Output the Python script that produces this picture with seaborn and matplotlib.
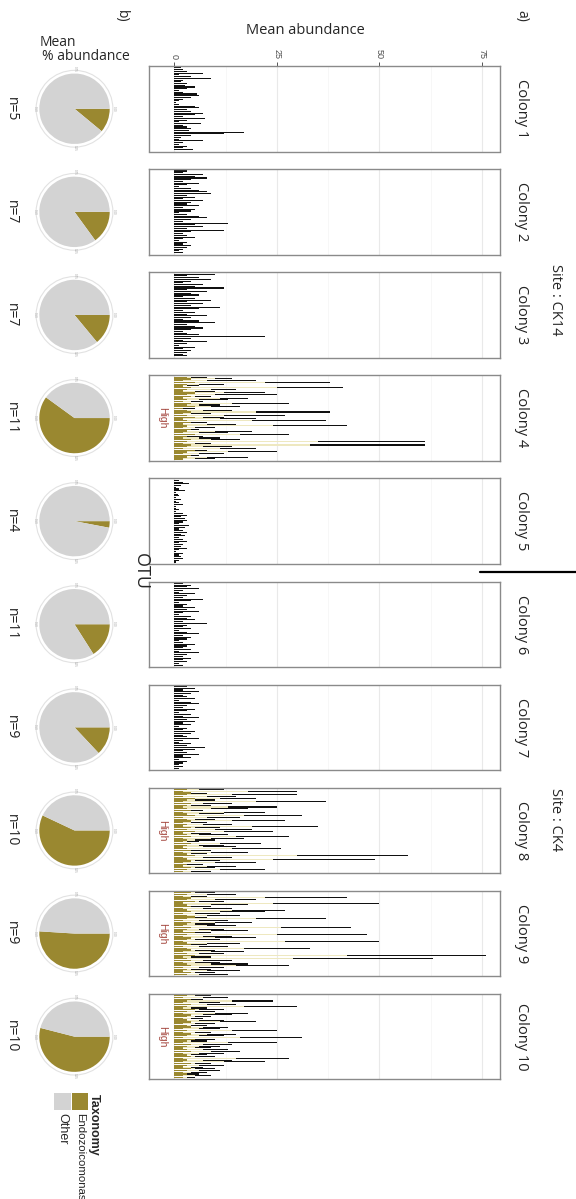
import numpy as np
import pandas as pd
import matplotlib
matplotlib.use("Agg")
import matplotlib.pyplot as plt
from matplotlib.patches import Rectangle, Circle
import seaborn as sns

sns.set_theme(style="white")
plt.rcParams["font.family"] = ["Open Sans", "DejaVu Sans"]

# ---- data -------------------------------------------------------------
colonies = [f"Colony {i}" for i in range(1, 11)]
sample_n = [5, 7, 7, 11, 4, 11, 9, 10, 9, 10]
endo_share = [0.11, 0.15, 0.14, 0.60, 0.03, 0.16, 0.13, 0.57, 0.51, 0.54]
high_colonies = ["Colony 4", "Colony 8", "Colony 9", "Colony 10"]
site_names = ["Site : CK14", "Site : CK4"]
axis_ticks = [0, 25, 50, 75]

# mean abundance per OTU (total bar length)
c1_total = [1.5, 2, 3, 7, 1, 4, 9, 2, 1.5, 3, 2.5, 5, 3, 1, 2, 5.5, 6, 4, 2, 1,
            0.5, 1, 5, 6, 3, 4, 7, 5, 2, 7.5, 3, 1, 6.5, 2, 3, 4, 3.5, 17, 12, 4,
            1.5, 1, 7, 2, 1, 3, 2, 4.5]
c2_total = [3, 2, 7, 5, 8, 4, 2, 6, 3, 1, 4, 6, 8, 9, 3, 5, 2, 7, 4, 3,
            6, 2, 5, 4, 1, 3, 6, 8, 4, 2, 13, 5, 7, 3, 12, 4, 2, 3, 5, 2,
            1, 3, 2, 4, 3, 2, 1, 2]
c3_total = [10, 3, 6, 9, 4, 2, 7, 5, 12, 3, 8, 4, 6, 2, 5, 9, 3, 7, 4, 11,
            6, 2, 5, 3, 8, 4, 2, 6, 10, 3, 5, 7, 4, 2, 3, 6, 22, 4, 2, 8,
            3, 1, 5, 2, 4, 3, 2, 3]
c4_total = [8, 14, 20, 38, 12, 6, 41, 15, 10, 22, 25, 9, 18, 13, 7, 28, 11, 16, 5, 14,
            38, 9, 27, 12, 20, 37, 8, 15, 42, 10, 6, 19, 13, 28, 7, 11, 16, 61, 9, 61,
            14, 20, 8, 25, 12, 6, 18, 10]
c5_total = [1, 2, 3.5, 1.5, 0.5, 1, 2.5, 0.5, 0.8, 1, 0.5, 1.5, 0.5, 1, 2, 0.5, 0.5, 1, 0.5, 2,
            3, 1.5, 2.5, 3, 2, 1, 3.5, 2.5, 1, 2, 3, 1.5, 2.5, 1, 2, 3, 1, 2, 1.5, 3,
            1, 0.5, 2, 1, 1.5, 2, 1, 0.5]
c6_total = [2, 4, 3, 6, 2, 1, 5, 3, 2, 7, 4, 1, 3, 2, 5, 3, 6, 2, 1, 4,
            3, 5, 2, 8, 3, 2, 4, 1, 3, 6, 2, 4, 3, 1, 2, 5, 3, 2, 4, 1,
            6, 3, 2, 4, 2, 3, 1, 2]
c7_total = [3, 5, 2, 6, 4, 2, 3, 5, 1, 4, 6, 3, 2, 5, 3, 1, 4, 2, 6, 3,
            5, 2, 4, 1, 3, 2, 5, 4, 2, 3, 6, 2, 1, 4, 3, 7.5, 5, 2, 3, 6,
            2, 4, 1, 3, 2, 1, 2, 1]
c8_total = [12, 30, 8, 30, 15, 20, 10, 37, 14, 9, 25, 18, 7, 22, 12, 31, 16, 10, 27, 8,
            14, 35, 11, 19, 24, 9, 13, 28, 17, 10, 6, 21, 12, 15, 26, 9, 18, 8, 57, 14,
            49, 11, 20, 7, 15, 10, 22, 9]
c9_total = [10, 15, 8, 42, 20, 12, 50, 18, 9, 14, 27, 22, 11, 16, 8, 37, 13, 19, 10, 15,
            43, 12, 18, 9, 47, 14, 20, 11, 50, 16, 8, 13, 33, 10, 17, 12, 76, 9, 63, 14,
            11, 18, 28, 12, 9, 16, 10, 13]
c10_total = [9, 13, 7, 24, 11, 15, 30, 8, 12, 10, 18, 14, 9, 7, 12, 20, 10, 8, 13, 11,
             25, 9, 15, 12, 31, 10, 8, 25, 14, 11, 9, 13, 16, 12, 8, 10, 28, 14, 22, 9,
             12, 7, 10, 11, 8, 6, 9, 5]

# lighter inner share of the bar (samples other than the dominant one)
c4_pale = [4, 10, 8, 22, 6, 3, 25, 9, 5, 12, 10, 5, 11, 6, 4, 14, 6, 9, 2, 7,
           20, 4, 12, 7, 11, 19, 4, 8, 24, 5, 3, 10, 6, 16, 3, 6, 9, 35, 5, 33,
           7, 11, 4, 13, 6, 3, 8, 5]
c8_pale = [6, 18, 4, 14, 8, 11, 5, 20, 7, 4, 13, 9, 3, 12, 6, 17, 8, 5, 14, 4,
           7, 19, 5, 10, 12, 4, 6, 15, 9, 5, 3, 11, 6, 7, 14, 4, 9, 4, 30, 7,
           24, 5, 10, 3, 8, 5, 11, 4]
c9_pale = [5, 8, 4, 22, 10, 6, 24, 9, 4, 7, 14, 11, 5, 8, 4, 20, 6, 10, 5, 8,
           26, 6, 9, 4, 25, 7, 10, 5, 27, 8, 4, 6, 17, 5, 9, 6, 42, 4, 29, 7,
           5, 9, 15, 6, 4, 8, 5, 6]
c10_pale = [5, 7, 4, 14, 6, 8, 17, 4, 6, 5, 10, 7, 5, 4, 6, 11, 5, 4, 7, 6,
            14, 5, 8, 6, 16, 5, 4, 13, 7, 6, 5, 7, 9, 6, 4, 5, 15, 7, 12, 5,
            6, 4, 5, 6, 4, 3, 5, 3]

# Endozoicomonas part at the base of the bar
c4_olive = [3, 4, 2, 5, 3, 2, 4, 3, 2, 5, 3, 4, 2, 3, 2, 4, 3, 5, 2, 3,
            4, 2, 3, 5, 2, 3, 4, 2, 3, 2, 4, 3, 2, 5, 3, 2, 4, 3, 2, 4,
            3, 2, 5, 3, 2, 4, 3, 2]
c8_olive = [3, 2, 4, 3, 2, 5, 3, 2, 4, 3, 2, 3, 4, 2, 3, 5, 2, 3, 4, 2,
            3, 2, 4, 3, 5, 2, 3, 4, 2, 3, 2, 4, 3, 2, 3, 4, 2, 3, 5, 2,
            3, 4, 2, 3, 2, 4, 3, 2]
c9_olive = [4, 3, 2, 4, 3, 5, 2, 3, 4, 2, 3, 4, 2, 3, 5, 3, 2, 4, 3, 2,
            4, 3, 2, 5, 3, 2, 4, 3, 2, 3, 4, 2, 3, 4, 2, 3, 5, 2, 3, 4,
            2, 3, 4, 2, 3, 2, 4, 3]
c10_olive = [3, 2, 4, 3, 2, 4, 3, 2, 5, 3, 2, 4, 3, 2, 3, 4, 2, 3, 4, 2,
             3, 2, 4, 3, 2, 5, 3, 2, 4, 3, 2, 3, 4, 2, 3, 4, 2, 3, 2, 4,
             3, 2, 4, 3, 2, 3, 2, 2]

totals = [c1_total, c2_total, c3_total, c4_total, c5_total,
          c6_total, c7_total, c8_total, c9_total, c10_total]
pale_parts = {"Colony 4": c4_pale, "Colony 8": c8_pale,
              "Colony 9": c9_pale, "Colony 10": c10_pale}
olive_parts = {"Colony 4": c4_olive, "Colony 8": c8_olive,
               "Colony 9": c9_olive, "Colony 10": c10_olive}

# ---- style ------------------------------------------------------------
OLIVE = "#9A8830"
GREY = "#D3D3D3"
PALE = "#EEE8C0"
DARK = "#111111"
FRAME = "#8A8A8A"
HIGH_RED = "#A4463E"
BAR_W = 0.62

W, H = 576, 1199
fig = plt.figure(figsize=(W / 100, H / 100), dpi=100)
fig.patch.set_facecolor("white")


def fx(x):
    return x / W


def fy(y):
    return 1 - y / H


PANEL_H = 85.5
tops = [66 + 103.1 * i for i in range(10)]
XMIN, XMAX = -6.2, 79.4

for i, (name, vals) in enumerate(zip(colonies, totals)):
    top = tops[i]
    ax = fig.add_axes([fx(149), fy(top + PANEL_H), fx(500) - fx(149), PANEL_H / H])
    n = len(vals)
    otu = [f"{name}-OTU{k + 1:02d}" for k in range(n)]
    df = pd.DataFrame({"otu": otu, "total": vals})
    # background grid drawn first
    for g in [0, 25, 50, 75]:
        ax.axvline(g, color="#E9E9E9", lw=0.8, zorder=0)
    for g in [12.5, 37.5, 62.5]:
        ax.axvline(g, color="#F4F4F4", lw=0.5, zorder=0)
    sns.barplot(data=df, x="total", y="otu", order=otu, orient="h", color=DARK,
                saturation=1, width=BAR_W, errorbar=None, linewidth=0, ax=ax, zorder=2)
    if name in pale_parts:
        df["pale"] = pale_parts[name]
        df["olive"] = olive_parts[name]
        sns.barplot(data=df, x="pale", y="otu", order=otu, orient="h", color=PALE,
                    saturation=1, width=BAR_W, errorbar=None, linewidth=0, ax=ax, zorder=3)
        sns.barplot(data=df, x="olive", y="otu", order=otu, orient="h", color=OLIVE,
                    saturation=1, width=0.75, errorbar=None, linewidth=0, ax=ax, zorder=4)
    ax.set_xlim(XMIN, XMAX)
    ax.set_ylim(n - 0.5 + 0.6, -0.5 - 0.6)
    ax.set_xlabel("")
    ax.set_ylabel("")
    ax.set_yticks([])
    for s in ax.spines.values():
        s.set_color(FRAME)
        s.set_linewidth(1.0)
    if i == 0:
        ax.xaxis.tick_top()
        ax.set_xticks(axis_ticks)
        ax.set_xticklabels([str(t) for t in axis_ticks], rotation=270,
                           fontsize=6.5, color="#4D4D4D", family="Liberation Sans")
        ax.tick_params(axis="x", top=True, bottom=False, length=3, width=0.7,
                       color="#555555", pad=2)
    else:
        ax.set_xticks([])
    cy = top + PANEL_H / 2
    fig.text(fx(521), fy(cy), name, rotation=270, ha="center", va="center",
             fontsize=10.5, color="#222222")
    if name in high_colonies:
        fig.text(fx(162), fy(cy), "High", rotation=270, ha="center", va="center",
                 fontsize=7.5, color=HIGH_RED, family="Liberation Sans")
    fig.text(fx(11), fy(cy), f"n={sample_n[i]}", rotation=270, ha="center",
             va="center", fontsize=10, color="#222222")

    # pie of mean % abundance per colony
    pax = fig.add_axes([fx(32), fy(top + PANEL_H), fx(117) - fx(32), PANEL_H / H])
    share = endo_share[i]
    pax.pie([share, 1 - share], colors=[OLIVE, GREY], startangle=0,
            counterclock=False, radius=1.0, wedgeprops={"linewidth": 0})
    pax.add_patch(Circle((0, 0), 1.09, fill=False, ec="#E2E2E2", lw=0.8))
    for lab, (px, py) in zip(["0.00", "0.25", "0.50", "0.75"],
                             [(1.12, 0), (0, -1.12), (-1.12, 0), (0, 1.12)]):
        pax.text(px, py, lab, fontsize=2.2, color="#9A9A9A", rotation=270,
                 ha="center", va="center")
    lim = 42.5 / 35
    pax.set_xlim(-lim, lim)
    pax.set_ylim(-lim, lim)
    pax.set_aspect("equal", adjustable="datalim")
    pax.axis("on")
    pax.set_xticks([])
    pax.set_yticks([])
    for s in pax.spines.values():
        s.set_visible(True)
        s.set_color(FRAME)
        s.set_linewidth(0.9)

# ---- titles and annotations ------------------------------------------------
fig.text(fx(522), fy(16), "a)", rotation=270, ha="center", va="center", fontsize=10)
fig.text(fx(121), fy(16), "b)", rotation=270, ha="center", va="center", fontsize=10)
fig.text(fx(305), fy(31), "Mean abundance", ha="center", va="center", fontsize=10.5)
fig.text(fx(40), fy(42), "Mean", ha="left", va="center", fontsize=10)
fig.text(fx(42), fy(56), "% abundance", ha="left", va="center", fontsize=10)
fig.text(fx(555), fy(300), site_names[0], rotation=270, ha="center", va="center",
         fontsize=10.5)
fig.text(fx(555), fy(820), site_names[1], rotation=270, ha="center", va="center",
         fontsize=10.5)
fig.text(fx(141), fy(571), "OTU", rotation=270, ha="center", va="center", fontsize=13)
fig.add_artist(plt.Line2D([fx(480), fx(576)], [fy(572), fy(572)], color="black",
                          lw=1.6, transform=fig.transFigure))

# ---- legend ---------------------------------------------------------------
fig.add_artist(Rectangle((fx(72), fy(1110)), fx(88) - fx(72), 17 / H,
                         transform=fig.transFigure, fc=OLIVE, ec="none"))
fig.add_artist(Rectangle((fx(54), fy(1110)), fx(71) - fx(54), 17 / H,
                         transform=fig.transFigure, fc=GREY, ec="none"))
fig.text(fx(94), fy(1094), "Taxonomy", rotation=270, rotation_mode="anchor",
         ha="left", va="center", fontsize=9, fontweight="bold",
         family="Liberation Sans")
fig.text(fx(80), fy(1113), "Endozoicomonas", rotation=270, rotation_mode="anchor",
         ha="left", va="center", fontsize=8.2, family="Liberation Sans")
fig.text(fx(62), fy(1113), "Other", rotation=270, rotation_mode="anchor",
         ha="left", va="center", fontsize=9, family="Liberation Sans")

fig.savefig("out.png", dpi=100, facecolor="white")
